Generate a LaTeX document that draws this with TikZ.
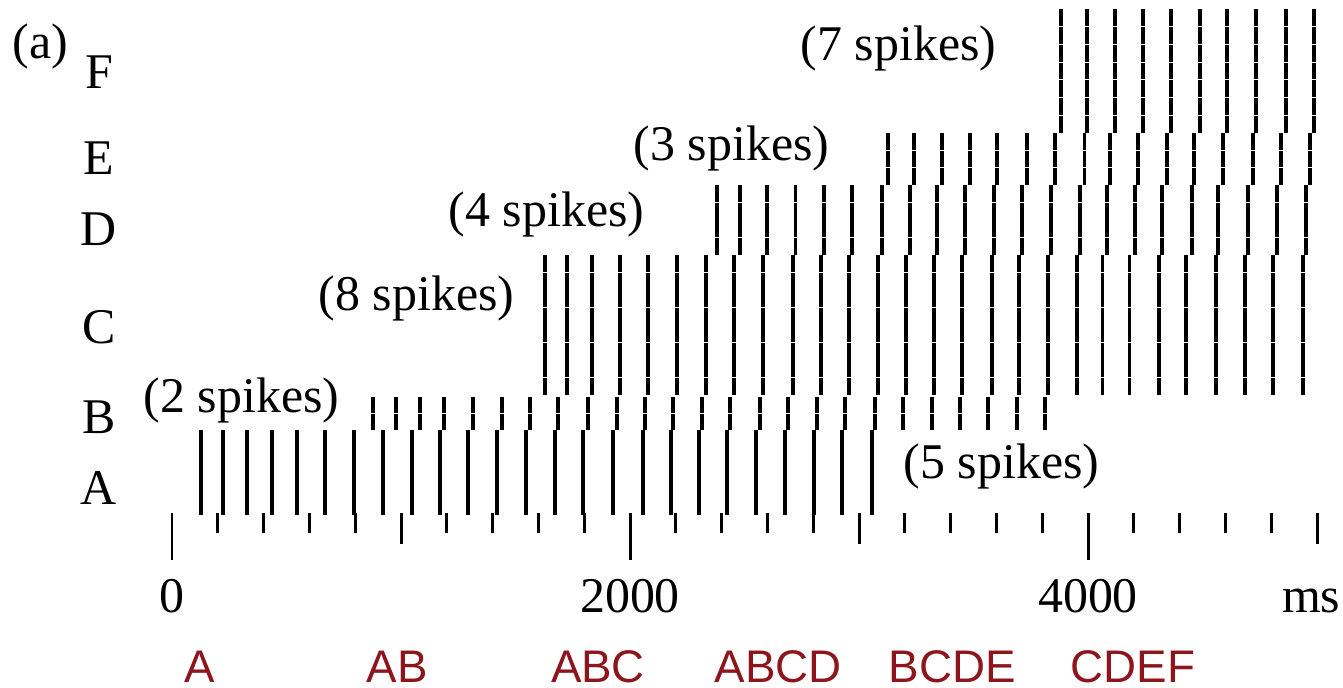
\documentclass[tikz,border=0pt]{standalone}
\usepackage{fontspec}
\setmainfont{Liberation Serif}
\newfontfamily\grpfont{Liberation Sans}
\definecolor{grpred}{RGB}{140,22,28}

\begin{document}
\begin{tikzpicture}[x=0.01cm,y=-0.01cm,inner sep=0pt,
  spk/.style={line width=1.05pt},
  tck/.style={line width=0.85pt},
  lbl/.style={anchor=base,font=\fontsize{14.2pt}{17pt}\selectfont},
  cnt/.style={anchor=base west,font=\fontsize{14.2pt}{17pt}\selectfont},
  grp/.style={anchor=base,text=grpred,font=\grpfont\fontsize{13pt}{15pt}\selectfont}]
\useasboundingbox (0,0) rectangle (1343,687);
% row labels
\node[lbl,anchor=base west] (tag) at (12,58) {(a)};
\node[lbl] (rF) at (99,88) {F};
\node[lbl] (rE) at (99,174) {E};
\node[lbl] (rD) at (99,245) {D};
\node[lbl] (rC) at (99,343) {C};
\node[lbl] (rB) at (99,433) {B};
\node[lbl] (rA) at (99,504) {A};
%
\node[cnt] (n2) at (143,412) {(2 spikes)};
\node[cnt] (n8) at (318,310) {(8 spikes)};
\node[cnt] (n4) at (448,226) {(4 spikes)};
\node[cnt] (n3) at (633,160) {(3 spikes)};
\node[cnt] (n7) at (800,60) {(7 spikes)};
\node[cnt] (n5) at (903,478) {(5 spikes)};
%% raster: A (5 cells)
\foreach \x in {200.7,223.3,247.3,271.7,297.3,325,354.3,382.7,411.7,440,468.3,496.7,526,
  555,583.3,613.3,642.7,670.7,699.3,727.3,756,785,814,841.7,871.7}
  \foreach \i in {0,...,4} \draw[spk] (\x,430+17*\i+0.4) -- (\x,430+17*\i+16.6);
% B (2 cells)
\foreach \x in {373.3,396,420,444,473.3,501.7,530,558.3,588.3,616.7,645,673.3,701.7,730,760,
  788.3,816.7,845,875,903.3,931.7,960,988.3,1016.7,1045}
  \foreach \i in {0,1} \draw[spk] (\x,397+16.5*\i+0.4) -- (\x,397+16.5*\i+16.1);
% C (8 cells)
\foreach \x in {545,567.3,591.7,620,648.3,676.7,705.7,734,763.3,792.7,821,849.3,878.3,906,934,
  962.3,991.7,1019.3,1048.3,1076.7,1102.5,1129.5,1159.3,1186,1216,1245,1273.3,1302.7}
  \foreach \i in {0,...,7} \draw[spk] (\x,255+17.5*\i+0.4) -- (\x,255+17.5*\i+17.1);
% D (4 cells)
\foreach \x in {716.7,740,766.7,795.5,824,852,881.7,910,937.3,965,994,1021.7,1051,1079.7,
  1106.7,1135,1162.3,1191.7,1218.3,1248.3,1277.3,1306}
  \foreach \i in {0,...,3} \draw[spk] (\x,185+17.5*\i+0.4) -- (\x,185+17.5*\i+17.1);
% E (3 cells)
\foreach \x in {888.3,914,942.3,970,997.3,1026.7,1055,1084.5,1110,1138.3,1167.3,1194.3,
  1223.3,1252.7,1280.7,1310}
  \foreach \i in {0,1,2} \draw[spk] (\x,133+17.3*\i+0.4) -- (\x,133+17.3*\i+16.9);
% F (7 cells)
\foreach \x in {1061,1087.3,1115,1142.7,1170.7,1200,1227.3,1256,1286,1314.3}
  \foreach \i in {0,...,6} \draw[spk] (\x,9+17.7*\i+0.4) -- (\x,9+17.7*\i+17.3);
%% time axis
\foreach \k in {1,2,3,4,6,7,8,9,11,12,13,14,16,17,18,19,21,22,23,24}
  \draw[tck] (172+45.8*\k,513) -- (172+45.8*\k,533);
\foreach \k in {5,15,25} \draw[tck] (172+45.8*\k,513) -- (172+45.8*\k,544);
\foreach \k in {0,10,20} \draw[tck] (172+45.8*\k,513) -- (172+45.8*\k,560);
\node[lbl] (t0) at (172,612) {0};
\node[lbl] (t2) at (630,612) {2000};
\node[lbl] (t4) at (1088,612) {4000};
\node[lbl,anchor=base east] (tms) at (1341,612) {ms};
%% stimulus groups
\node[grp] (gA) at (200,682) {A};
\node[grp] (gAB) at (397,682) {AB};
\node[grp] (gABC) at (598,682) {ABC};
\node[grp] (gABCD) at (778,682) {ABCD};
\node[grp] (gBCDE) at (952,682) {BCDE};
\node[grp] (gCDEF) at (1133,682) {CDEF};
\end{tikzpicture}
\end{document}
